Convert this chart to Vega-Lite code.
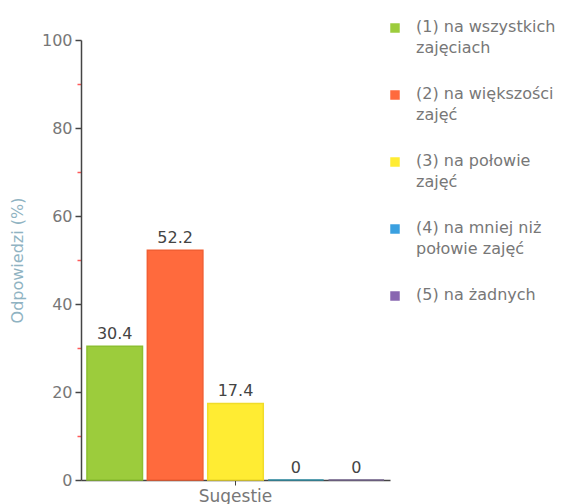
{
  "$schema": "https://vega.github.io/schema/vega-lite/v6.json",
  "autosize": {"type": "none"},
  "padding": {"left": 81, "top": 40, "right": 198, "bottom": 24},
  "width": 309,
  "height": 440,
  "background": "white",
  "config": {"view": {"stroke": null}, "font": "DejaVu Sans"},
  "data": {
    "values": [
      {"group": "Sugestie", "cat": "(1) na wszystkich zajęciach", "value": 30.4},
      {"group": "Sugestie", "cat": "(2) na większości zajęć", "value": 52.2},
      {"group": "Sugestie", "cat": "(3) na połowie zajęć", "value": 17.4},
      {"group": "Sugestie", "cat": "(4) na mniej niż połowie zajęć", "value": 0},
      {"group": "Sugestie", "cat": "(5) na żadnych", "value": 0}
    ]
  },
  "encoding": {
    "x": {
      "field": "group",
      "type": "nominal",
      "scale": {"paddingInner": 0, "paddingOuter": 0.02},
      "axis": {
        "title": null,
        "labelAngle": 0,
        "labelFontSize": 17,
        "labelColor": "#777777",
        "labelPadding": 3,
        "tickSize": 5,
        "tickColor": "#444444",
        "domainColor": "#444444",
        "domainWidth": 1.5
      }
    },
    "xOffset": {
      "field": "cat",
      "type": "nominal",
      "scale": {"paddingInner": 0.08, "paddingOuter": 0}
    },
    "y": {
      "field": "value",
      "type": "quantitative",
      "scale": {"domain": [0, 100], "nice": false},
      "axis": {
        "title": "Odpowiedzi (%)",
        "titleColor": "#8fb3c2",
        "titleFontSize": 16,
        "titleFontWeight": "normal",
        "titlePadding": 16,
        "values": [0, 10, 20, 30, 40, 50, 60, 70, 80, 90, 100],
        "labelExpr": "datum.value % 20 == 0 ? datum.label : ''",
        "labelFontSize": 16,
        "labelColor": "#777777",
        "labelPadding": 3,
        "tickSize": {"condition": {"test": "datum.value % 20 != 0", "value": 4}, "value": 6},
        "tickColor": {"condition": {"test": "datum.value % 20 != 0", "value": "#ff5a5a"}, "value": "#444444"},
        "tickWidth": 1.5,
        "domainColor": "#444444",
        "domainWidth": 1.5,
        "grid": false
      }
    }
  },
  "layer": [
    {
      "mark": {"type": "bar", "strokeWidth": 1.5, "strokeOpacity": 1},
      "encoding": {
        "color": {
          "field": "cat",
          "type": "nominal",
          "scale": {
            "domain": ["(1) na wszystkich zajęciach", "(2) na większości zajęć", "(3) na połowie zajęć", "(4) na mniej niż połowie zajęć", "(5) na żadnych"],
            "range": ["#9ccc3c", "#ff6a3d", "#ffec33", "#3aa0e0", "#8866b0"]
          },
          "legend": {
            "title": null,
            "orient": "none",
            "legendX": 306,
            "legendY": -20,
            "symbolType": "square",
            "symbolSize": 90,
            "symbolStrokeWidth": 0,
            "labelFontSize": 16,
            "labelColor": "#777777",
            "labelBaseline": "top",
            "labelLimit": 300,
            "labelOffset": 13,
            "rowPadding": 30,
            "encode": {"labels": {"update": {"lineHeight": {"value": 21}, "dy": {"value": -9}}}},
            "labelExpr": "datum.value == '(1) na wszystkich zajęciach' ? ['(1) na wszystkich', 'zajęciach'] : datum.value == '(2) na większości zajęć' ? ['(2) na większości', 'zajęć'] : datum.value == '(3) na połowie zajęć' ? ['(3) na połowie', 'zajęć'] : datum.value == '(4) na mniej niż połowie zajęć' ? ['(4) na mniej niż', 'połowie zajęć'] : datum.label"
          }
        },
        "stroke": {"field": "cat", "type": "nominal", "legend": null,
          "scale": {
            "domain": ["(1) na wszystkich zajęciach", "(2) na większości zajęć", "(3) na połowie zajęć", "(4) na mniej niż połowie zajęć", "(5) na żadnych"],
            "range": ["#8cbf30", "#f25f33", "#f0dc2a", "#2f8fa5", "#75658f"]
          }
        }
      }
    },
    {
      "mark": {"type": "text", "baseline": "bottom", "dy": -4, "fontSize": 16, "color": "#444444"},
      "encoding": {
        "text": {"field": "value", "type": "quantitative", "format": "~g"}
      }
    }
  ]
}
